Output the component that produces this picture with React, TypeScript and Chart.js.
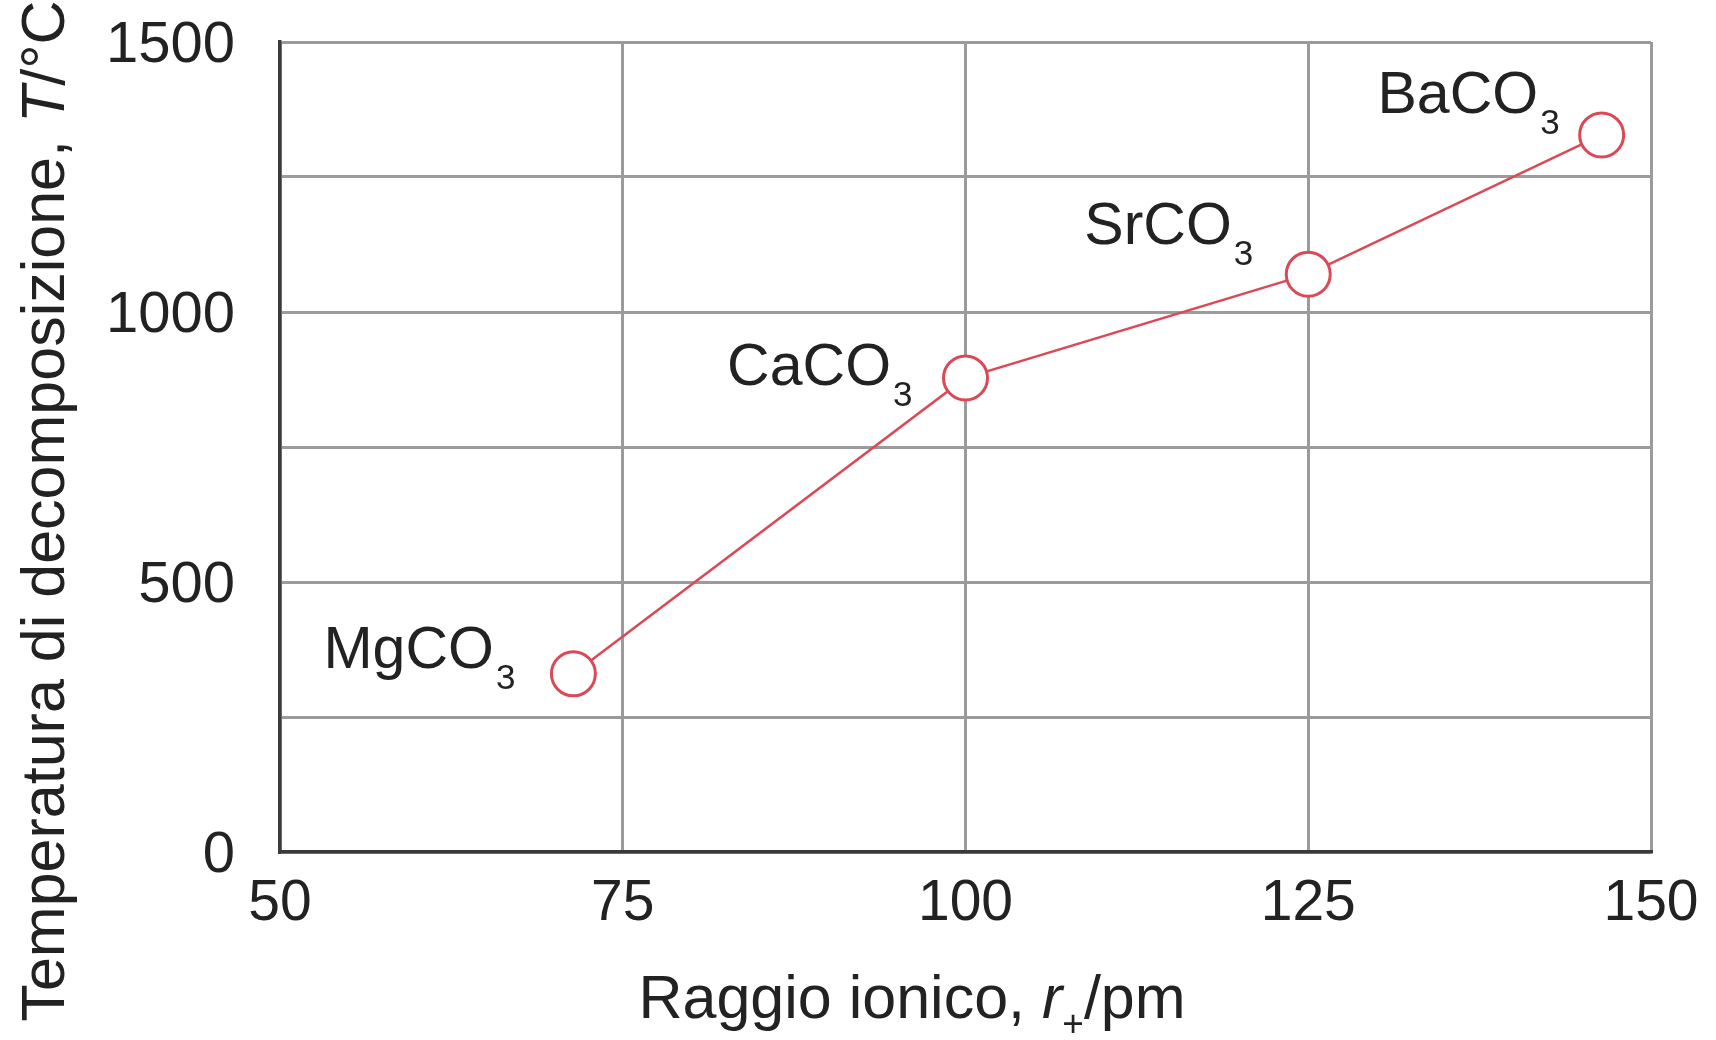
import { useEffect, useRef } from "react";
import { Chart, registerables } from "chart.js";

Chart.register(...registerables);

// ---- data ----
const compounds = ["MgCO", "CaCO", "SrCO", "BaCO"];
const subscripts = ["3", "3", "3", "3"];
const ionicRadius = [71.4, 100, 125, 146.4];
const decompTemp = [330, 878, 1070, 1328];
const xTickValues = [50, 75, 100, 125, 150];
const yLabelledTicks = [0, 500, 1000, 1500];
const xTitleParts = ["Raggio ionico, ", "r", "+", "/pm"];
const yTitleParts = ["Temperatura di decomposizione, ", "T", "/°C"];

// ---- style (label placement relative to each point, in px) ----
const labelOffsets = [
  [-58, -6],
  [-53, 7],
  [-55, -30],
  [-42, -22],
];

const FONT = '"Liberation Sans", Arial, Helvetica, sans-serif';
const TEXT = "#222222";
const RED = "#dc4956";

const annotations = {
  id: "annotations",
  afterDatasetsDraw(chart: any) {
    const ctx = chart.ctx;
    const xs = chart.scales.x;
    const ys = chart.scales.y;
    ctx.save();
    ctx.fillStyle = TEXT;
    ctx.textBaseline = "alphabetic";
    ctx.textAlign = "left";
    compounds.forEach((name, i) => {
      const px = xs.getPixelForValue(ionicRadius[i]);
      const py = ys.getPixelForValue(decompTemp[i]);
      const [dx, dy] = labelOffsets[i];
      ctx.font = `35px ${FONT}`;
      const sw = ctx.measureText(subscripts[i]).width;
      ctx.font = `59px ${FONT}`;
      const mw = ctx.measureText(name).width;
      const right = px + dx;
      const sx = right - sw;
      const mx = sx - 2 - mw;
      ctx.fillText(name, mx, py + dy);
      ctx.font = `35px ${FONT}`;
      ctx.fillText(subscripts[i], sx, py + dy + 21);
    });
    ctx.restore();
  },
  afterDraw(chart: any) {
    const ctx = chart.ctx;
    ctx.save();
    ctx.fillStyle = TEXT;
    ctx.textBaseline = "alphabetic";
    ctx.textAlign = "left";

    // Y title (rotated)
    const yFonts = [`61px ${FONT}`, `italic 61px ${FONT}`, `61px ${FONT}`];
    let total = 0;
    const widths: number[] = [];
    yTitleParts.forEach((p, i) => {
      ctx.font = yFonts[i];
      const w = ctx.measureText(p).width;
      widths.push(w);
      total += w;
    });
    ctx.translate(64, 511);
    ctx.rotate(-Math.PI / 2);
    let cx = -total / 2;
    yTitleParts.forEach((p, i) => {
      ctx.font = yFonts[i];
      ctx.fillText(p, cx, 0);
      cx += widths[i];
    });
    ctx.setTransform(1, 0, 0, 1, 0, 0);

    // X title
    const xFonts = [`61px ${FONT}`, `italic 61px ${FONT}`, `37px ${FONT}`, `61px ${FONT}`];
    const xDy = [0, 0, 18, 0];
    const xw: number[] = [];
    let xt = 0;
    xTitleParts.forEach((p, i) => {
      ctx.font = xFonts[i];
      const w = ctx.measureText(p).width;
      xw.push(w);
      xt += w;
    });
    let xx = 912 - xt / 2;
    const base = 1018;
    xTitleParts.forEach((p, i) => {
      ctx.font = xFonts[i];
      ctx.fillText(p, xx, base + xDy[i]);
      xx += xw[i];
    });
    ctx.restore();
  },
};

export default function App() {
  const ref = useRef<HTMLCanvasElement>(null);
  useEffect(() => {
    if (!ref.current) return;
    const chart = new Chart(ref.current, {
      type: "scatter",
      data: {
        datasets: [
          {
            data: ionicRadius.map((x, i) => ({ x, y: decompTemp[i] })),
            showLine: true,
            borderColor: RED,
            borderWidth: 2.5,
            pointRadius: 22,
            pointHoverRadius: 22,
            pointBackgroundColor: "#ffffff",
            pointBorderColor: RED,
            pointBorderWidth: 3,
            clip: false as any,
          },
        ],
      },
      options: {
        animation: false,
        responsive: false,
        layout: { padding: { top: 42, right: 65, left: 0, bottom: 0 } },
        plugins: { legend: { display: false }, tooltip: { enabled: false } },
        scales: {
          x: {
            type: "linear",
            min: 50,
            max: 150,
            afterBuildTicks: (scale: any) => {
              scale.ticks = xTickValues.map((v) => ({ value: v }));
            },
            afterFit: (scale: any) => {
              scale.height = 188;
              scale.paddingLeft = 0;
              scale.paddingRight = 0;
            },
            grid: { color: "#9b9b9b", lineWidth: 3, drawTicks: false },
            border: { color: "#3a3a3a", width: 3.5 },
            ticks: {
              padding: 18,
              color: TEXT,
              font: { family: FONT, size: 57 },
              maxRotation: 0,
              autoSkip: false,
            },
          },
          y: {
            type: "linear",
            min: 0,
            max: 1500,
            afterFit: (scale: any) => {
              scale.width = 280;
              scale.paddingTop = 0;
              scale.paddingBottom = 0;
            },
            grid: { color: "#9b9b9b", lineWidth: 3, drawTicks: false },
            border: { color: "#3a3a3a", width: 3.5 },
            ticks: {
              stepSize: 250,
              padding: 45,
              labelOffset: 4,
              color: TEXT,
              font: { family: FONT, size: 58 },
              autoSkip: false,
              callback: (v: any) => (yLabelledTicks.includes(Number(v)) ? String(v) : ""),
            },
          },
        },
      },
      plugins: [annotations],
    });
    return () => chart.destroy();
  }, []);
  return (
    <div style={{ position: "fixed", left: 0, top: 0, width: 1716, height: 1040, background: "#fff" }}>
      <canvas ref={ref} width={1716} height={1040} />
    </div>
  );
}
